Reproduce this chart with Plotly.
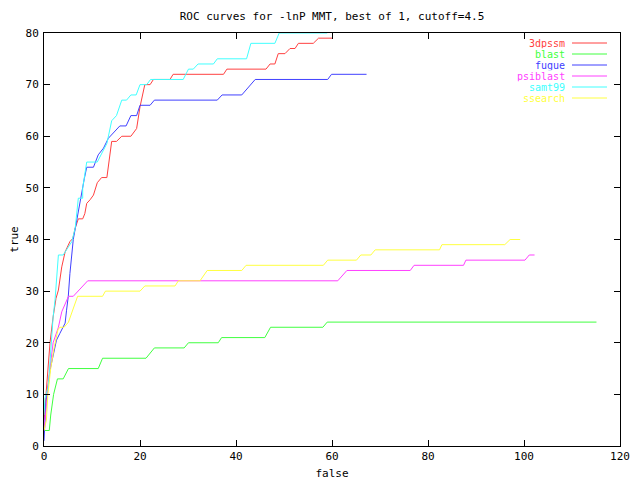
import plotly.graph_objects as go

# ---- data (false positives, true positives) ----
names = ["3dpssm", "blast", "fugue", "psiblast", "samt99", "ssearch"]
colors = ["#ff4040", "#40ff40", "#4040ff", "#ff40ff", "#40ffff", "#ffff40"]

dpssm_x = [0, 0.56, 1.25, 1.9, 2.5, 3.0, 3.7, 4.4, 5.4, 6.0, 6.5, 7.15, 8.06, 8.5, 8.9, 9.6, 10.3, 11.1, 12.0, 13.1,
           13.4, 14.1, 15.1, 16.2, 18.1, 19.3, 20, 21, 22.1, 22.8, 26.25, 26.9, 37.4, 38.1, 46.25, 47.1, 48.1, 48.8,
           50.2, 51.25, 52.3, 53, 56.1, 57.2, 60.1]
dpssm_y = [5, 11.5, 20, 25, 28.6, 30.2, 34.7, 37.6, 39.6, 40.2, 42.2, 44, 44, 45, 47, 47.7, 48.6, 51, 52, 52,
           54, 59, 59, 60, 60, 61.5, 65.7, 70, 70, 71, 71, 72, 72, 73, 73, 74, 74, 76,
           76, 77, 77, 78, 78, 79, 79]

blast_x = [0, 1.1, 1.4, 2.0, 2.8, 4.0, 5.1, 11.3, 12.2, 21.25, 23, 29.2, 30.1, 36.3, 37, 46, 47.2, 58.1, 59, 115.1]
blast_y = [3, 3, 6, 10, 13, 13, 15, 15, 17, 17, 19, 19, 20, 20, 21, 21, 23, 23, 24, 24]

fugue_x = [0, 0.4, 1.25, 1.9, 2.6, 3.3, 4.4, 4.7, 5.06, 5.4, 5.8, 6.1, 8.4, 8.9, 10.3, 11.3, 12.4, 13.4, 15.8, 17.1,
           18.1, 19.3, 20, 22.1, 23, 36.1, 37.1, 41.2, 44, 59.1, 59.9, 67.2]
fugue_y = [1, 8.3, 14.7, 17.3, 20.5, 21.8, 23.8, 26.3, 29, 33.4, 37.6, 40, 51.8, 54, 54, 56.4, 57.7, 59.6, 62, 62,
           64, 64, 66, 66, 67, 67, 68, 68, 71, 71, 72, 72]

psiblast_x = [0, 0.56, 1.25, 1.9, 3.0, 3.7, 5.1, 6.1, 9.1, 61.2, 63.1, 76.3, 77.1, 87.4, 87.9, 100.2, 101.1, 102.2]
psiblast_y = [3, 9, 15, 20, 23, 26, 29, 29, 32, 32, 34, 34, 35, 35, 36, 36, 37, 37]

samt99_x = [0, 0.2, 0.9, 1.6, 1.9, 2.3, 3.0, 4.0, 5.8, 6.5, 7.15, 8.06, 8.06, 8.9, 11.1, 13.1, 14.1, 15.1, 16.2, 17.2,
            18.1, 19.2, 20, 21.4, 22.2, 29, 30.1, 31.1, 32.1, 35.3, 36.1, 42.2, 43.1, 48.1, 49, 59]
samt99_y = [6, 9.2, 11.5, 22, 25, 28.3, 37, 37, 39.6, 42.2, 48, 48, 50, 55, 55, 58.6, 63, 64, 67, 67,
            68, 68, 70, 70, 71, 71, 73, 73, 74, 74, 75, 75, 78, 78, 80, 80]

ssearch_x = [0, 0.5, 0.8, 1.4, 2.1, 2.9, 3.3, 4.2, 5.1, 6.1, 7.0, 12.2, 12.8, 20, 21, 27.3, 28, 32.5, 34, 41.2, 42.1,
             58.2, 59.1, 65.1, 66, 68.1, 69, 82.4, 82.9, 96, 97.1, 99.2]
ssearch_y = [3, 5, 10, 15, 19, 22.5, 23, 23, 24, 26.5, 29, 29, 30, 30, 31, 31, 32, 32, 34, 34, 35,
             35, 36, 36, 37, 37, 38, 38, 39, 39, 40, 40]

series_x = [dpssm_x, blast_x, fugue_x, psiblast_x, samt99_x, ssearch_x]
series_y = [dpssm_y, blast_y, fugue_y, psiblast_y, samt99_y, ssearch_y]

x_ticks = [0, 20, 40, 60, 80, 100, 120]
y_ticks = [0, 10, 20, 30, 40, 50, 60, 70, 80]

FONT = "DejaVu Sans Mono"

fig = go.Figure()
for n, c, xs, ys in zip(names, colors, series_x, series_y):
    fig.add_trace(go.Scatter(x=xs, y=ys, mode="lines", name=n,
                             line=dict(color=c, width=1), showlegend=False))

# page body has an 8px margin; compensate so the plot box lands at 44..620 x 33..446
OFF = 8
W, H = 640 - OFF, 480 - OFF
PL, PR, PT, PB = 44, 620, 33, 446          # plot box in page pixels
L, T = PL - OFF, PT - OFF
pw, ph = PR - PL, PB - PT
R, B = W - L - pw, H - T - ph

# custom gnuplot-style legend: text right-aligned, then line sample
for i, (n, c) in enumerate(zip(names, colors)):
    py = 43 + i * 11
    yp = (PB - py) / ph
    fig.add_annotation(x=(566 - PL) / pw, y=yp, xref="paper", yref="paper", text=n,
                       showarrow=False, xanchor="right", yanchor="middle", height=10.2,
                       borderpad=0,
                       font=dict(family=FONT, size=10, color=c))
    fig.add_shape(type="line", xref="paper", yref="paper",
                  x0=(572 - PL) / pw, x1=(607 - PL) / pw, y0=yp, y1=yp,
                  line=dict(color=c, width=1))

axis_common = dict(showline=True, linecolor="black", linewidth=1, mirror="ticks",
                   ticks="inside", ticklen=6, tickcolor="black", showgrid=False,
                   zeroline=False, automargin=False,
                   tickfont=dict(family=FONT, size=11, color="black"))

fig.update_layout(
    width=W, height=H,
    margin=dict(l=L, r=R, t=T, b=B),
    paper_bgcolor="white", plot_bgcolor="white",
    title=dict(text="ROC curves for -lnP MMT, best of 1, cutoff=4.5",
               x=(L + pw / 2) / W, xanchor="center", y=1 - (16 - OFF) / H, yanchor="middle",
               font=dict(family=FONT, size=11, color="black")),
    xaxis=dict(range=[0, 120], tickvals=x_ticks, ticktext=[str(v) for v in x_ticks],
               ticklabelstandoff=0,
               title=dict(text="false", standoff=10, font=dict(family=FONT, size=11, color="black")),
               **axis_common),
    yaxis=dict(range=[0, 80], tickvals=y_ticks, ticktext=[str(v) for v in y_ticks],
               ticklabelstandoff=2,
               title=dict(text="true", standoff=6, font=dict(family=FONT, size=11, color="black")),
               **axis_common),
    showlegend=False,
)

fig.write_html("out.html")
